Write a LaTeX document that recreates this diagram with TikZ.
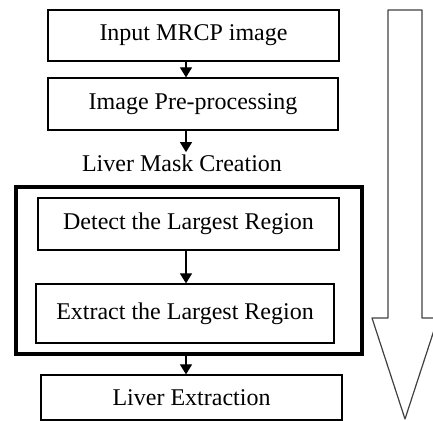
\documentclass[tikz,border=0pt]{standalone}
\usepackage{fontspec}
\setmainfont{Liberation Serif}
\usetikzlibrary{positioning,calc,arrows.meta}
\tikzset{>={Triangle[width=6pt,length=5pt]}}
\tikzset{
  stepbox/.style={draw,line width=.6pt,inner sep=0pt,font=\fontsize{12}{14}\selectfont},
  groupbox/.style={draw,line width=1.6pt,inner sep=0pt},
  flow/.style={->,line width=.6pt}
}

\begin{document}
\begin{tikzpicture}[x=.5pt,y=-.5pt]
\useasboundingbox (0,0) rectangle (433,421);
\clip (0,0) rectangle (433,421);
\coordinate (mid) at (186,0);
\node[stepbox,minimum width=145.5pt,minimum height=25.5pt] (input) at (193.5,35.5) {Input MRCP image};
\node[stepbox,minimum width=145pt,minimum height=26pt] (prep) at (193,104) {Image Pre-processing};
\node[inner sep=1pt,font=\fontsize{12}{14}\selectfont] (mask) at (182,163) {Liver Mask Creation};
\node[groupbox,minimum width=173pt,minimum height=83.5pt] (group) at (189,270.5) {};
\node[stepbox,minimum width=150.5pt,minimum height=26pt] (detect) at (188.5,224) {Detect the Largest Region};
\node[stepbox,minimum width=149pt,minimum height=29.5pt] (extract) at (185,313.5) {Extract\ the Largest Region};
\node[stepbox,minimum width=150.5pt,minimum height=22.5pt] (liver) at (191.5,397.5) {Liver Extraction};
\draw[flow] (input.south -| mid) -- (prep.north -| mid);
\draw[flow] (prep.south -| mid) -- (mask.north -| mid);
\draw[flow] (detect.south -| mid) -- (extract.north -| mid);
\draw[flow] (group.south -| mid) -- (liver.north -| mid);
% big arrow on the right
\draw[black!75,line width=.6pt,line join=round] (388,10) -- (422,10) -- (422,318) -- (438,318)
  -- (405,419) -- (372,318) -- (388,318) -- cycle;
\end{tikzpicture}
\end{document}
